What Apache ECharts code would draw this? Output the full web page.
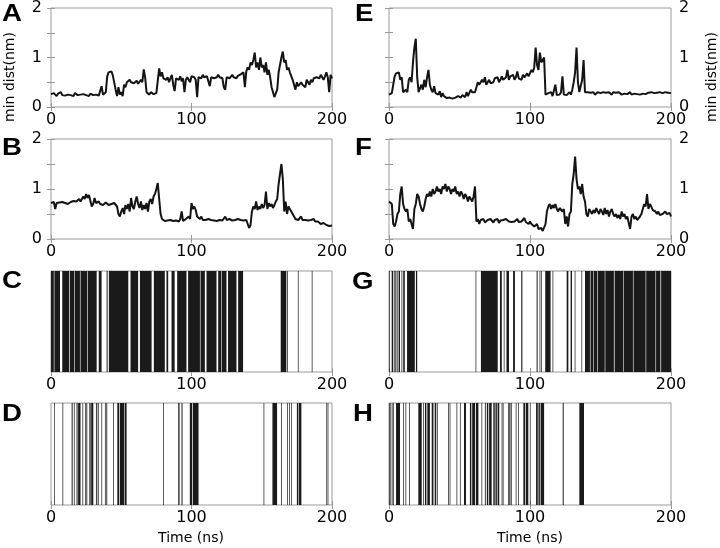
<!DOCTYPE html>
<html><head><meta charset="utf-8">
<script src="https://cdn.jsdelivr.net/npm/echarts@6/dist/echarts.min.js"></script>
<style>html,body{margin:0;padding:0;background:#fff}#c{width:720px;height:548px}</style>
</head><body><div id="c"></div>
<script>
// ---- data: min distance traces, 1 value per ns, t = 0..200 ----
const distA = [
0.26,0.24,0.28,0.25,0.22,0.27,0.25,0.3,0.24,0.26,
0.23,0.27,0.25,0.29,0.24,0.26,0.22,0.28,0.25,0.24,
0.27,0.25,0.23,0.26,0.3,0.24,0.26,0.22,0.27,0.25,
0.24,0.28,0.25,0.26,0.23,0.27,0.42,0.25,0.28,0.3,
0.62,0.7,0.66,0.72,0.64,0.68,0.35,0.22,0.4,0.25,
0.3,0.22,0.45,0.4,0.5,0.48,0.55,0.5,0.52,0.48,
0.5,0.53,0.47,0.5,0.55,0.5,0.76,0.6,0.3,0.27,
0.25,0.3,0.27,0.26,0.3,0.28,0.25,0.78,0.62,0.7,
0.58,0.62,0.55,0.6,0.5,0.58,0.65,0.45,0.32,0.58,
0.6,0.55,0.62,0.52,0.58,0.3,0.55,0.6,0.62,0.5,
0.62,0.58,0.6,0.55,0.2,0.6,0.62,0.58,0.65,0.6,
0.58,0.62,0.6,0.42,0.6,0.63,0.58,0.62,0.6,0.65,
0.6,0.62,0.58,0.4,0.35,0.6,0.62,0.58,0.6,0.65,
0.6,0.62,0.58,0.63,0.6,0.66,0.62,0.7,0.4,0.72,
0.8,0.75,0.9,0.85,0.95,1.1,0.8,0.9,0.75,1.0,
0.8,0.85,0.7,0.9,0.65,0.75,0.6,0.4,0.3,0.2,
0.18,0.35,0.7,0.85,1.0,1.12,0.9,0.95,0.75,0.8,
0.7,0.72,0.55,0.45,0.35,0.5,0.42,0.4,0.5,0.45,
0.48,0.4,0.55,0.5,0.45,0.55,0.5,0.58,0.55,0.6,
0.62,0.58,0.65,0.6,0.55,0.62,0.7,0.6,0.3,0.65,0.58];
const distE = [
0.25,0.22,0.28,0.24,0.62,0.68,0.65,0.7,0.55,0.6,
0.3,0.28,0.35,0.3,0.55,0.6,0.5,0.9,1.2,1.38,
0.6,0.3,0.28,0.45,0.35,0.55,0.4,0.6,0.75,0.45,
0.35,0.3,0.42,0.28,0.3,0.25,0.32,0.2,0.28,0.22,
0.2,0.18,0.22,0.19,0.2,0.17,0.21,0.19,0.18,0.22,
0.2,0.19,0.24,0.21,0.2,0.3,0.22,0.25,0.35,0.3,
0.28,0.3,0.32,0.5,0.45,0.48,0.55,0.5,0.6,0.45,
0.5,0.55,0.48,0.52,0.5,0.58,0.55,0.6,0.5,0.55,
0.62,0.55,0.58,0.6,0.75,0.55,0.62,0.58,0.65,0.55,
0.6,0.72,0.58,0.62,0.55,0.65,0.6,0.58,0.68,0.62,
0.65,0.75,0.7,0.8,1.2,0.85,0.75,1.1,0.9,0.95,
1.0,0.25,0.22,0.28,0.25,0.3,0.22,0.26,0.45,0.24,
0.27,0.25,0.3,0.62,0.25,0.28,0.24,0.26,0.3,0.25,
0.35,0.5,0.7,1.2,0.5,0.3,0.28,0.55,0.95,0.3,
0.28,0.3,0.26,0.29,0.27,0.3,0.25,0.28,0.3,0.26,
0.28,0.25,0.3,0.27,0.29,0.26,0.3,0.28,0.25,0.3,
0.27,0.29,0.26,0.3,0.28,0.25,0.29,0.27,0.3,0.26,
0.28,0.3,0.25,0.29,0.27,0.3,0.26,0.28,0.25,0.29,
0.27,0.3,0.26,0.28,0.29,0.25,0.3,0.27,0.28,0.26,
0.29,0.27,0.3,0.26,0.28,0.25,0.3,0.27,0.29,0.26,0.28];
const distB = [
0.72,0.7,0.74,0.6,0.72,0.7,0.73,0.71,0.74,0.7,
0.72,0.75,0.7,0.73,0.74,0.72,0.76,0.73,0.75,0.72,
0.8,0.75,0.78,0.85,0.8,0.9,0.82,0.88,0.92,0.65,
0.7,0.82,0.72,0.68,0.75,0.7,0.72,0.68,0.7,0.73,
0.7,0.68,0.72,0.7,0.66,0.72,0.68,0.65,0.5,0.45,
0.55,0.62,0.5,0.68,0.6,0.7,0.55,0.82,0.65,0.6,
0.75,0.85,0.7,0.62,0.75,0.58,0.68,0.6,0.72,0.55,
0.75,0.8,0.7,0.85,0.9,1.0,1.12,0.8,0.5,0.4,
0.38,0.36,0.4,0.37,0.35,0.38,0.4,0.36,0.38,0.37,
0.38,0.35,0.4,0.55,0.36,0.38,0.4,0.42,0.45,0.4,
0.72,0.6,0.65,0.58,0.45,0.42,0.4,0.45,0.38,0.4,
0.38,0.37,0.4,0.36,0.38,0.4,0.37,0.39,0.36,0.4,
0.38,0.42,0.37,0.4,0.45,0.38,0.36,0.4,0.38,0.37,
0.4,0.38,0.37,0.4,0.42,0.38,0.4,0.37,0.39,0.38,
0.3,0.22,0.28,0.55,0.65,0.6,0.75,0.58,0.65,0.6,
0.7,0.62,0.68,0.95,0.6,0.72,0.65,0.7,0.62,0.68,
0.75,0.8,1.1,1.3,1.5,1.2,0.55,0.75,0.5,0.65,
0.6,0.55,0.5,0.45,0.4,0.42,0.38,0.4,0.45,0.38,
0.4,0.38,0.42,0.37,0.4,0.38,0.36,0.4,0.35,0.38,
0.35,0.36,0.3,0.34,0.32,0.3,0.28,0.3,0.26,0.28,0.27];
const distF = [
0.75,0.72,0.7,0.3,0.25,0.35,0.5,0.55,0.9,1.05,
0.7,0.6,0.55,0.6,0.35,0.4,0.3,0.2,0.6,0.7,
0.9,0.85,0.7,0.6,0.55,0.65,0.8,0.9,0.85,0.95,
0.85,1.0,0.9,0.95,1.05,0.95,1.0,0.9,1.05,1.0,
1.1,0.95,1.05,1.0,0.9,1.0,0.95,1.05,0.9,0.95,
0.85,0.95,0.9,0.8,0.9,0.85,0.75,0.85,0.8,0.75,
0.85,1.05,0.35,0.4,0.3,0.38,0.35,0.4,0.33,0.36,
0.38,0.35,0.4,0.36,0.33,0.38,0.35,0.4,0.32,0.37,
0.35,0.38,0.34,0.4,0.36,0.35,0.39,0.34,0.38,0.35,
0.37,0.4,0.34,0.38,0.35,0.36,0.42,0.34,0.37,0.3,
0.35,0.3,0.32,0.25,0.22,0.3,0.2,0.18,0.22,0.16,
0.2,0.3,0.55,0.65,0.7,0.6,0.68,0.62,0.7,0.6,
0.55,0.62,0.58,0.55,0.6,0.3,0.45,0.25,0.5,0.55,
1.1,1.3,1.65,1.2,1.0,1.05,0.9,1.1,0.85,0.75,
0.5,0.45,0.6,0.55,0.5,0.58,0.52,0.62,0.55,0.5,
0.6,0.55,0.48,0.62,0.5,0.58,0.45,0.55,0.6,0.5,
0.45,0.5,0.42,0.48,0.4,0.55,0.45,0.5,0.4,0.45,
0.42,0.2,0.45,0.5,0.4,0.45,0.38,0.42,0.45,0.5,
0.6,0.7,0.65,0.9,0.6,0.7,0.65,0.58,0.62,0.55,
0.5,0.55,0.48,0.52,0.5,0.47,0.55,0.5,0.48,0.52,0.45];

// ---- contact intervals [start ns, end ns] ----
const contactC = [[0,2],[2.4,6.4],[8,13],[13.5,16.4],[16.8,20.6],[21,25.8],[26.2,32.5],[34,36],[39.6,40.3],[41.2,55],[56.6,62],[63.3,71.6],[73.2,81],[82.2,83.4],[85.8,88],[89.8,96.4],[97.6,106],[106.4,109.5],[110.7,117.8],[119,121.3],[121.7,124.9],[126,132],[133.2,136.7],[163.5,167.5],[168,168.3],[175.7,176],[185.6,185.9]];
const contactG = [[0,0.4],[1.9,3],[3.8,4.7],[5.4,6.1],[6.8,7.8],[8.9,9.2],[10.1,11.2],[12.8,18.3],[19.1,20],[61.4,61.8],[65.2,77.1],[78.7,80],[81.4,81.7],[83.3,85.1],[88,89.3],[93.8,94.6],[104.7,105.4],[106.8,107.1],[108,108.3],[110.8,114.6],[116,116.3],[126,127.2],[128.8,129.8],[131.7,132],[136.5,136.8],[139,142.5],[142.9,145],[145.4,147.8],[148.2,153],[153.4,159.5],[160,166],[166.4,173],[173.4,182],[182.4,189],[189.4,192.5],[193,200]];
const contactD = [[2.3,2.6],[8.2,8.5],[14.7,15.4],[16.3,16.6],[18.2,18.9],[19.3,21],[22.4,22.7],[24.2,24.6],[25.2,25.8],[27.3,28.2],[28.6,30.1],[32,32.6],[33.2,33.9],[35.9,36.2],[38.4,38.9],[39.4,40],[44.2,44.5],[47.2,48.5],[49,52.2],[52.6,53.8],[79.8,80.1],[90.5,90.8],[91,91.2],[92.9,93.6],[98.8,100.5],[101,105],[151.3,151.6],[157.6,160.9],[163.9,164.2],[168,168.5],[169.4,169.9],[170.9,171.2],[175,176],[176.4,178.2],[196,196.3],[196.9,197.2]];
const contactH = [[0,0.4],[1,1.5],[2,2.4],[3,3.3],[5,7.8],[10.1,10.4],[11.7,12],[14.3,14.6],[20.8,23.2],[24.2,24.5],[25.5,26.5],[27.2,29],[30.3,31.2],[31.6,31.9],[32.6,33.4],[33.9,34.5],[42,42.4],[43,43.3],[47.9,48.2],[50.3,50.6],[53.2,54.6],[57.4,58.4],[59,61],[61.6,63.4],[65.6,65.9],[68,68.6],[69.4,70.4],[71,72.8],[74,75],[75.5,76.5],[77,78.2],[79.9,80.3],[80.7,81],[84.6,85.6],[86.2,87],[89.9,90.2],[91.6,91.9],[95.3,96.5],[97,98.8],[99.9,100.2],[104.3,105.5],[106,107],[107.5,110],[123.2,123.9],[135,138.3]];

const panelLetters = ['A','E','B','F','C','G','D','H'];
const yTickLabels = ['0','1','2'];
const xLabel = 'Time (ns)';
const yLabel = 'min dist(nm)';

// ---- layout ----
const L = {left:51, w:281}, R = {left:389, w:282};
const rows = [{top:6,h:101},{top:139,h:100},{top:271,h:101},{top:403,h:102}];
const panels = [
  {col:L,row:0,kind:'line',data:distA,side:'left'},
  {col:R,row:0,kind:'line',data:distE,side:'right'},
  {col:L,row:1,kind:'line',data:distB,side:'left'},
  {col:R,row:1,kind:'line',data:distF,side:'right'},
  {col:L,row:2,kind:'bar',data:contactC},
  {col:R,row:2,kind:'bar',data:contactG},
  {col:L,row:3,kind:'bar',data:contactD},
  {col:R,row:3,kind:'bar',data:contactH}
];
const FONT = '"DejaVu Sans", sans-serif';
const BFONT = '"Liberation Sans", Arial, sans-serif';
const frame = '#9a9a9a';
const grid=[], xAxis=[], yAxis=[], series=[];
panels.forEach((p,i)=>{
  const r = rows[p.row];
  grid.push({left:p.col.left, top:r.top, width:p.col.w, height:r.h, show:true, borderColor:frame, borderWidth:1, backgroundColor:'transparent'});
  const xBase = {type:'value', gridIndex:i, min:0, max:200, interval:100, splitLine:{show:false}, axisLine:{show:false},
    axisTick:{show:true, inside:true, length:4, lineStyle:{color:frame}}};
  xAxis.push(Object.assign({}, xBase, {position:'bottom', axisLabel:{show:true, color:'#000', fontSize:16, fontFamily:FONT, margin:5}}));
  xAxis.push(Object.assign({}, xBase, {position:'top', axisLabel:{show:false}}));
  if (p.kind==='line') {
    const yBase = {type:'value', gridIndex:i, min:0, max:2, interval:0.5, splitLine:{show:false}, axisLine:{show:false},
      axisTick:{show:true, inside:true, length:4, lineStyle:{color:frame}}};
    const other = p.side==='left' ? 'right' : 'left';
    yAxis.push(Object.assign({}, yBase, {position:p.side, axisLabel:{show:true, color:'#000', fontSize:16, fontFamily:FONT, margin: p.side==='left'?9:8,
      formatter:v=> (v%1===0 ? yTickLabels[v] : '')}}));
    yAxis.push(Object.assign({}, yBase, {position:other, axisLabel:{show:false}}));
    series.push({type:'line', xAxisIndex:2*i, yAxisIndex:2*i, data:p.data.map((v,t)=>[t,v]), showSymbol:false, symbol:'none',
      lineStyle:{color:'#141414', width:2, join:'bevel'}, animation:false, silent:true});
  } else {
    yAxis.push({type:'value', gridIndex:i, min:0, max:1, show:false});
    yAxis.push({type:'value', gridIndex:i, min:0, max:1, show:false});
    series.push({type:'custom', xAxisIndex:2*i, yAxisIndex:2*i, data:p.data, encode:{x:[0,1]}, animation:false, silent:true,
      renderItem:(params, api)=>{
        const p0 = api.coord([api.value(0),0]);
        const p1 = api.coord([api.value(1),1]);
        const w = Math.max(p1[0]-p0[0], 0.7);
        return {type:'rect', shape:{x:p0[0], y:p1[1], width:w, height:p0[1]-p1[1]}, style:{fill:'#1a1a1a'}};
      }});
  }
});

const graphic = [];
const letterPos = [[2,3],[355,3],[2,137],[355,137],[2,270],[352,271],[2,403],[353,403]];
panelLetters.forEach((t,i)=>graphic.push({type:'text', x:letterPos[i][0], y:letterPos[i][1], scaleX:1.2,
  style:{text:t, font:'bold 23px '+BFONT, fill:'#000', verticalAlign:'top'}}));
graphic.push({type:'text', x:10, y:77, rotation:Math.PI/2, style:{text:yLabel, font:'14px '+FONT, fill:'#000', align:'center', verticalAlign:'middle'}});
graphic.push({type:'text', x:712, y:77, rotation:Math.PI/2, style:{text:yLabel, font:'14px '+FONT, fill:'#000', align:'center', verticalAlign:'middle'}});
graphic.push({type:'text', x:191, y:538, style:{text:xLabel, font:'14px '+FONT, fill:'#000', align:'center', verticalAlign:'middle'}});
graphic.push({type:'text', x:530, y:538, style:{text:xLabel, font:'14px '+FONT, fill:'#000', align:'center', verticalAlign:'middle'}});

const chart = echarts.init(document.getElementById('c'), null, {renderer:'canvas'});
chart.setOption({backgroundColor:'#fff', animation:false, grid, xAxis, yAxis, series, graphic});
</script></body></html>
